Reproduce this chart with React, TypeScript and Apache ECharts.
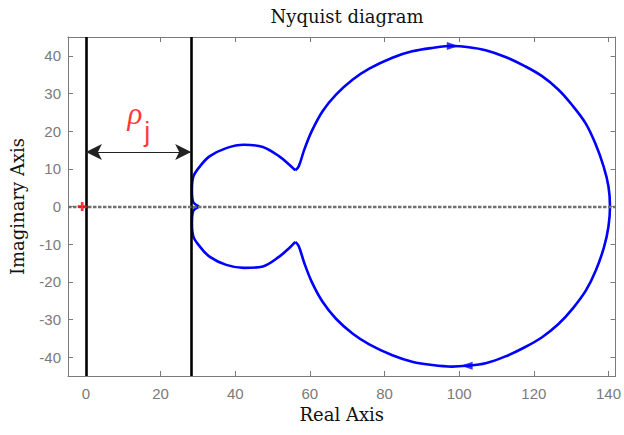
import { useEffect, useRef } from "react";
import * as echarts from "echarts";

// Nyquist curve, positive frequencies (upper half)
const upperRe = [30.3, 28.7, 28.4, 28.8, 30.5, 33.1, 37.6, 42.3, 47.4, 51.8, 54.5, 56.1, 57.0, 58.5, 60.5, 63.4, 67.0, 71.5, 75.9, 82.1, 87.4, 92.8, 98.1, 102.6, 107.1, 112.4, 117.7, 122.2, 126.6, 130.2, 133.8, 136.4, 138.7, 140.0, 140.4];
const upperIm = [0, 1.3, 4.4, 8.0, 10.6, 13.3, 15.5, 16.4, 15.8, 13.3, 11.1, 9.6, 10.6, 15.1, 20.0, 25.3, 29.7, 33.7, 36.6, 39.5, 41.2, 42.1, 42.6, 42.3, 41.5, 39.7, 37.2, 34.6, 31.0, 27.0, 22.2, 16.9, 10.6, 5.3, 0];
// Negative frequencies (lower half)
const lowerRe = [140.0, 138.8, 136.6, 134.0, 130.4, 126.6, 122.2, 117.7, 112.4, 107.1, 101.8, 98.1, 92.8, 87.4, 82.1, 75.9, 71.5, 67.0, 63.4, 60.5, 58.5, 57.0, 56.1, 54.5, 51.8, 47.4, 42.3, 37.6, 33.1, 30.5, 28.8, 28.4, 28.7, 30.3];
const lowerIm = [-5.3, -10.8, -17.0, -22.2, -27.1, -31.2, -34.7, -37.3, -39.8, -41.6, -42.3, -42.5, -42.1, -41.2, -39.5, -36.6, -33.8, -29.8, -25.3, -20.0, -15.0, -10.5, -9.4, -11.0, -13.3, -15.9, -16.3, -15.5, -13.3, -10.6, -8.0, -4.4, -1.3, 0];

// Direction arrows on the curve
const arrowRe = [98.3, 102.0];
const arrowIm = [42.6, -42.3];

// Critical point -1
const criticalPoint = [-1, 0];
// Vertical boundary lines (x = 0 and x = rho_j)
const boundaryX = [0, 28.2];
const rhoArrowY = 14.5;

const xTicks = [0, 20, 40, 60, 80, 100, 120, 140];
const yTicks = [-40, -30, -20, -10, 0, 10, 20, 30, 40];
const xRange = [-4.8, 141.9];
const yRange = [-45, 45];

export default function App() {
  const ref = useRef<HTMLDivElement>(null);
  useEffect(() => {
    if (!ref.current) return;
    const chart = echarts.init(ref.current, undefined, { renderer: "svg" });
    const upper = upperRe.map((x, i) => [x, upperIm[i]]);
    const lower = lowerRe.map((x, i) => [x, lowerIm[i]]);
    // split at the cusps (local minima of |Im| on each half, away from the real axis)
    const cuspU = upperIm.indexOf(Math.min(...upperIm.slice(5, 15)));
    const cuspL = lowerIm.indexOf(Math.max(...lowerIm.slice(15, 28)));
    const pieces = [
      upper.slice(0, cuspU + 1),
      [...upper.slice(cuspU), ...lower.slice(0, cuspL + 1)],
      lower.slice(cuspL),
    ];
    const gray = "#7a7a7a";
    const tickFont = { fontFamily: "Liberation Sans", fontSize: 15, color: gray };
    const serif = { fontFamily: "DejaVu Serif", fontSize: 18, color: "#111" };
    const baseX = {
      type: "value" as const,
      min: xRange[0],
      max: xRange[1],
      splitLine: { show: false },
      axisLine: { show: true, onZero: false, lineStyle: { color: gray, width: 1 } },
    };
    const baseY = {
      type: "value" as const,
      min: yRange[0],
      max: yRange[1],
      splitLine: { show: false },
      axisLine: { show: true, onZero: false, lineStyle: { color: gray, width: 1 } },
    };
    chart.setOption({
      animation: false,
      title: {
        text: "Nyquist diagram",
        left: 342,
        top: 2,
        textAlign: "center",
        textStyle: { ...serif, fontWeight: "normal" },
      },
      grid: { left: 68, right: 7, top: 37, bottom: 59, containLabel: false },
      xAxis: [
        {
          ...baseX,
          position: "bottom",
          name: "Real Axis",
          nameLocation: "middle",
          nameGap: 29,
          nameTextStyle: serif,
          axisTick: { show: true, inside: true, length: 5, customValues: xTicks, lineStyle: { color: gray } },
          axisLabel: { show: true, margin: 10, customValues: xTicks, ...tickFont },
        },
        {
          ...baseX,
          position: "top",
          axisTick: { show: true, inside: true, length: 5, customValues: xTicks, lineStyle: { color: gray } },
          axisLabel: { show: false },
        },
      ],
      yAxis: [
        {
          ...baseY,
          position: "left",
          name: "Imaginary Axis",
          nameLocation: "middle",
          nameGap: 42,
          nameTextStyle: serif,
          axisTick: { show: true, inside: true, length: 5, customValues: yTicks, lineStyle: { color: gray } },
          axisLabel: { show: true, margin: 7, customValues: yTicks, ...tickFont },
        },
        {
          ...baseY,
          position: "right",
          axisTick: { show: true, inside: true, length: 5, customValues: yTicks, lineStyle: { color: gray } },
          axisLabel: { show: false },
        },
      ],
      series: [
        {
          type: "line",
          data: [],
          silent: true,
          markLine: {
            silent: true,
            symbol: "none",
            label: { show: false },
            lineStyle: { color: "#000", width: 2.6, type: "solid" },
            data: boundaryX.map((x) => ({ xAxis: x })),
          },
        },
        ...pieces.map((p) => ({
          type: "line",
          data: p,
          showSymbol: false,
          symbol: "none",
          smooth: 0.35,
          lineStyle: { color: "#0000ff", width: 2.6 },
          z: 3,
        })),
        {
          type: "line",
          data: [],
          silent: true,
          z: 4,
          markLine: {
            silent: true,
            symbol: "none",
            label: { show: false },
            lineStyle: { color: "#707070", width: 2.4, type: [3.5, 1.5] },
            data: [{ yAxis: 0 }],
          },
        },
        {
          type: "scatter",
          z: 5,
          symbol: "triangle",
          symbolSize: [8, 12],
          itemStyle: { color: "#0000ff" },
          data: arrowRe.map((x, i) => ({
            value: [x, arrowIm[i]],
            symbolRotate: arrowIm[i] > 0 ? -90 : 90,
          })),
        },
        {
          type: "scatter",
          z: 6,
          symbol: "path://M3.5 0h3v10h-3z M0 3.5h10v3h-10z",
          symbolSize: 9,
          itemStyle: { color: "#ff0000" },
          data: [criticalPoint],
        },
        {
          type: "line",
          data: [],
          silent: true,
          z: 6,
          markLine: {
            silent: true,
            symbol: ["arrow", "arrow"],
            symbolSize: [12, 16],
            label: { show: false },
            lineStyle: { color: "#222", width: 1, type: "solid" },
            data: [[{ coord: [boundaryX[0], rhoArrowY] }, { coord: [boundaryX[1], rhoArrowY] }]],
          },
        },
        {
          type: "scatter",
          z: 7,
          symbolSize: 0,
          silent: true,
          data: [
            {
              value: [13.1, 24.6],
              label: {
                show: true,
                position: "inside",
                formatter: "ρ",
                fontFamily: "Liberation Serif",
                fontStyle: "italic",
                fontSize: 31,
                color: "#ff0000",
              },
            },
            {
              value: [16.4, 19.8],
              label: {
                show: true,
                position: "inside",
                formatter: "j",
                fontFamily: "Liberation Sans",
                fontSize: 27,
                color: "#ff0000",
              },
            },
          ],
        },
      ],
    });
    return () => chart.dispose();
  }, []);
  return (
    <div
      ref={ref}
      style={{ position: "absolute", left: 0, top: 0, width: 624, height: 435, background: "#fff" }}
    />
  );
}
